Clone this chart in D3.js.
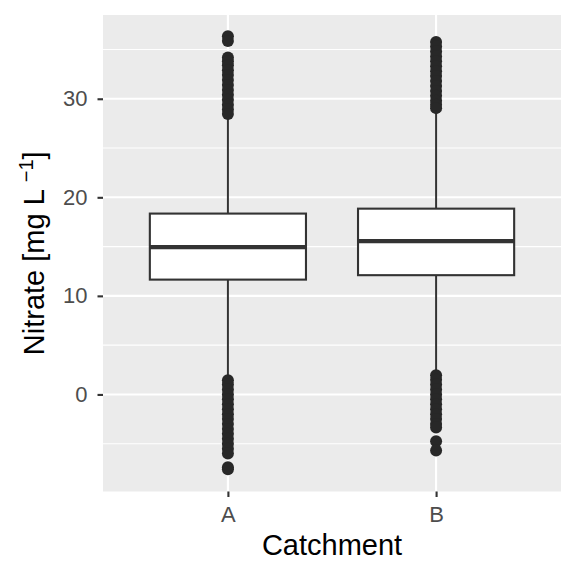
<!DOCTYPE html>
<html>
<head>
<meta charset="utf-8">
<script src="https://cdn.jsdelivr.net/npm/d3@7"></script>
<style>
  body { margin: 0; background: #ffffff; }
  svg { display: block; font-family: "Liberation Sans", Arial, sans-serif; }
</style>
</head>
<body>
<div id="chart"></div>
<script>
// box statistics
var categories = ['A', 'B'];
var q1 = [11.65, 12.1];
var medians = [14.95, 15.55];
var q3 = [18.35, 18.85];
var whiskerLow = [1.6, 2.1];
var whiskerHigh = [28.3, 28.9];

// outliers per catchment
var outliersA = [36.35, 35.85, 34.2, 33.8, 33.4, 32.9, 32.4, 31.9, 31.4, 30.9, 30.4, 29.9, 29.4, 28.9, 28.45,
  1.45, 1.0, 0.5, 0.0, -0.5, -1.0, -1.5, -2.0, -2.5, -3.0, -3.5, -4.0, -4.5, -5.0, -5.5, -6.0, -7.4, -7.6];
var outliersB = [35.75, 35.3, 34.8, 34.3, 33.8, 33.3, 32.8, 32.3, 31.8, 31.3, 30.8, 30.3, 29.8, 29.4, 29.05,
  1.95, 1.5, 1.0, 0.5, 0.0, -0.5, -1.0, -1.5, -2.0, -2.5, -3.0, -3.35, -4.75, -5.7];

var yTicks = [0, 10, 20, 30];
var yMinor = [-5, 5, 15, 25, 35];

function drawBoxplot() {
  var width = 576, height = 576;
  var margin = { top: 15, right: 15, bottom: 84.5, left: 103 };
  var pw = width - margin.left - margin.right,
      ph = height - margin.top - margin.bottom;

  var boxes = categories.map(function(c, i) {
    return { cat: c, q1: q1[i], med: medians[i], q3: q3[i], lo: whiskerLow[i], hi: whiskerHigh[i],
             out: i === 0 ? outliersA : outliersB };
  });

  // discrete expansion of 0.6 on each side
  var xScale = d3.scalePoint()
    .domain(categories)
    .range([0, pw])
    .padding(0.6);

  var yScale = d3.scaleLinear()
    .domain([-9.85, 38.5])
    .range([ph, 0]);

  var boxWidth = xScale.step() * 0.75;

  var svg = d3.select('#chart').append('svg')
    .attr('width', width)
    .attr('height', height);

  var g = svg.append('g')
    .attr('transform', 'translate(' + margin.left + ',' + margin.top + ')');

  g.append('rect')
    .attr('width', pw)
    .attr('height', ph)
    .style('fill', '#ebebeb');

  g.selectAll('.minor').data(yMinor).enter().append('line')
    .attr('x1', 0).attr('x2', pw)
    .attr('y1', function(d) { return yScale(d); })
    .attr('y2', function(d) { return yScale(d); })
    .style('stroke', '#ffffff')
    .style('stroke-width', 1.1);

  g.selectAll('.major').data(yTicks).enter().append('line')
    .attr('x1', 0).attr('x2', pw)
    .attr('y1', function(d) { return yScale(d); })
    .attr('y2', function(d) { return yScale(d); })
    .style('stroke', '#ffffff')
    .style('stroke-width', 2.1);

  g.selectAll('.vmajor').data(categories).enter().append('line')
    .attr('x1', function(d) { return xScale(d); })
    .attr('x2', function(d) { return xScale(d); })
    .attr('y1', 0).attr('y2', ph)
    .style('stroke', '#ffffff')
    .style('stroke-width', 2.1);

  var bg = g.selectAll('.box').data(boxes).enter().append('g');

  // whiskers
  bg.append('line')
    .attr('x1', function(d) { return xScale(d.cat); })
    .attr('x2', function(d) { return xScale(d.cat); })
    .attr('y1', function(d) { return yScale(d.hi); })
    .attr('y2', function(d) { return yScale(d.q3); })
    .style('stroke', '#333333').style('stroke-width', 2);
  bg.append('line')
    .attr('x1', function(d) { return xScale(d.cat); })
    .attr('x2', function(d) { return xScale(d.cat); })
    .attr('y1', function(d) { return yScale(d.q1); })
    .attr('y2', function(d) { return yScale(d.lo); })
    .style('stroke', '#333333').style('stroke-width', 2);

  bg.append('rect')
    .attr('x', function(d) { return xScale(d.cat) - boxWidth / 2; })
    .attr('y', function(d) { return yScale(d.q3); })
    .attr('width', boxWidth)
    .attr('height', function(d) { return yScale(d.q1) - yScale(d.q3); })
    .style('fill', '#ffffff')
    .style('stroke', '#333333')
    .style('stroke-width', 2.1);

  bg.append('line')
    .attr('x1', function(d) { return xScale(d.cat) - boxWidth / 2; })
    .attr('x2', function(d) { return xScale(d.cat) + boxWidth / 2; })
    .attr('y1', function(d) { return yScale(d.med); })
    .attr('y2', function(d) { return yScale(d.med); })
    .style('stroke', '#333333').style('stroke-width', 4.3);

  bg.selectAll('circle')
    .data(function(d) { return d.out.map(function(v) { return { cat: d.cat, v: v }; }); })
    .enter().append('circle')
    .attr('cx', function(d) { return xScale(d.cat); })
    .attr('cy', function(d) { return yScale(d.v); })
    .attr('r', 6)
    .style('fill', '#282828');

  // axes
  var yAxis = d3.axisLeft(yScale).tickValues(yTicks).tickSize(5.5).tickPadding(10);
  var yg = g.append('g').call(yAxis);
  var xAxis = d3.axisBottom(xScale).tickSize(5.5).tickPadding(9);
  var xg = g.append('g').attr('transform', 'translate(0,' + ph + ')').call(xAxis);

  [yg, xg].forEach(function(ax) {
    ax.select('.domain').remove();
    ax.selectAll('line').style('stroke', '#333333').style('stroke-width', 2.1);
    ax.selectAll('text')
      .style('fill', '#4d4d4d')
      .style('font-size', '22px')
      .style('font-family', '"Liberation Sans", Arial, sans-serif');
  });

  svg.append('text')
    .attr('x', margin.left + pw / 2)
    .attr('y', 555)
    .attr('text-anchor', 'middle')
    .style('font-size', '29px')
    .style('fill', '#000000')
    .text('Catchment');

  var yt = svg.append('text')
    .attr('transform', 'translate(43.5,' + (margin.top + ph / 2) + ') rotate(-90)')
    .attr('text-anchor', 'middle')
    .style('font-size', '29px')
    .style('fill', '#000000');
  yt.append('tspan').text('Nitrate [mg L ');
  yt.append('tspan').attr('dy', -11).style('font-size', '20px').text('\u22121');
  yt.append('tspan').attr('dy', 11).text(']');
}

drawBoxplot();
</script>
</body>
</html>
